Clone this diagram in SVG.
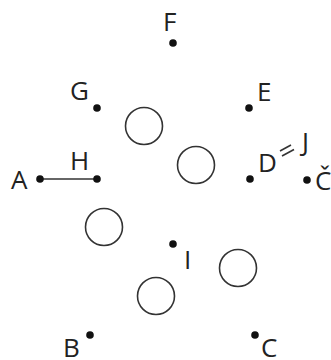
<svg xmlns="http://www.w3.org/2000/svg" width="331" height="360" viewBox="0 0 331 360">
<style>
.lbl{font-family:"Open Sans","Liberation Sans",sans-serif;font-size:26px;fill:#222}
.dot{fill:#111}
.ring{fill:none;stroke:#333;stroke-width:1.6}
.ln{stroke:#333;stroke-width:1.6;fill:none}
</style>
<rect width="331" height="360" fill="#fff"/>
<g id="connectors">
<line class="ln" x1="40" y1="179" x2="97" y2="179"/>
<line class="ln" x1="280" y1="151" x2="291" y2="145"/>
<line class="ln" x1="282" y1="156" x2="294" y2="149.5"/>
</g>
<g id="F"><circle class="dot" cx="173" cy="43" r="3.8"/><text class="lbl" x="163" y="31">F</text></g>
<g id="G"><circle class="dot" cx="97" cy="108" r="3.8"/><text class="lbl" x="70" y="100">G</text></g>
<g id="E"><circle class="dot" cx="249" cy="108" r="3.8"/><text class="lbl" x="257" y="101">E</text></g>
<g id="H"><circle class="dot" cx="97" cy="179" r="3.8"/><text class="lbl" x="70" y="170">H</text></g>
<g id="A"><circle class="dot" cx="40" cy="179" r="3.8"/><text class="lbl" x="11" y="189">A</text></g>
<g id="D"><circle class="dot" cx="250" cy="179" r="3.8"/><text class="lbl" x="258" y="172">D</text></g>
<g id="J"><text class="lbl" x="302" y="151">J</text></g>
<g id="Cc"><circle class="dot" cx="307" cy="180" r="3.8"/><text class="lbl" x="315" y="190">Č</text></g>
<g id="I"><circle class="dot" cx="173" cy="244" r="3.8"/><text class="lbl" x="184" y="269">I</text></g>
<g id="B"><circle class="dot" cx="90" cy="335" r="3.8"/><text class="lbl" x="63" y="357">B</text></g>
<g id="C"><circle class="dot" cx="255" cy="335" r="3.8"/><text class="lbl" x="261" y="357">C</text></g>
<g id="rings">
<circle class="ring" cx="144" cy="126" r="18.5"/>
<circle class="ring" cx="196" cy="165" r="18.5"/>
<circle class="ring" cx="104" cy="227" r="18.5"/>
<circle class="ring" cx="238" cy="268" r="18.5"/>
<circle class="ring" cx="156" cy="296" r="18.5"/>
</g>
</svg>
